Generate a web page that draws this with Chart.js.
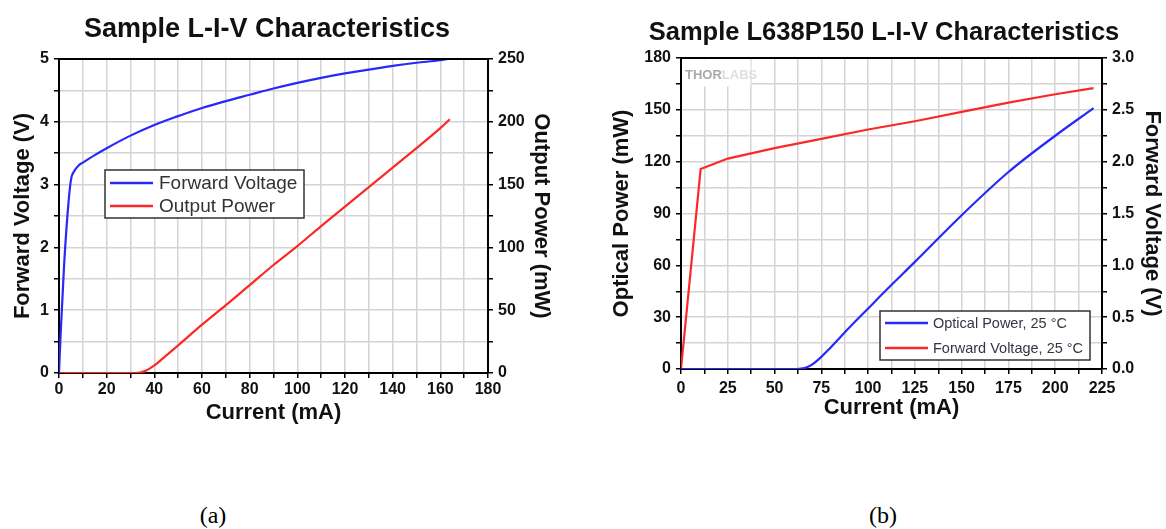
<!DOCTYPE html>
<html>
<head>
<meta charset="utf-8">
<title>L-I-V Characteristics</title>
<script src="https://cdn.jsdelivr.net/npm/chart.js@4.4.1/dist/chart.umd.min.js"></script>
<style>
    html, body { margin: 0; padding: 0; background: #fff; }
    #wrap { position: relative; width: 1166px; height: 529px; overflow: hidden; }
    .panel { position: absolute; top: 0; width: 583px; height: 440px; }
    #panelA { left: 0; }
    #panelB { left: 583px; }
    .cap {
        position: absolute; top: 503px; width: 60px; margin-left: -30px;
        text-align: center; font: 24px/24px "Liberation Serif", "DejaVu Serif", serif; color: #000;
    }
</style>
</head>
<body>
<div id="wrap">
    <div class="panel" id="panelA"><canvas id="chartA"></canvas></div>
    <div class="panel" id="panelB"><canvas id="chartB"></canvas></div>
    <div class="cap" style="left:213px">(a)</div>
    <div class="cap" style="left:883px">(b)</div>
</div>
<script>
// ============================================================
//  Data
// ============================================================

// (a) Sample L-I-V Characteristics
const aVoltCurrent  = [0, 0.7, 2.1, 3.5, 5, 6.5, 8.4, 10, 15, 20, 30, 40, 50, 60, 70, 80, 90, 100, 110, 120, 130, 140, 150, 160, 163];
const aVoltage      = [0, 0.63, 1.69, 2.49, 3.07, 3.22, 3.31, 3.35, 3.47, 3.58, 3.78, 3.95, 4.09, 4.22, 4.33, 4.43, 4.53, 4.62, 4.70, 4.77, 4.83, 4.89, 4.94, 4.98, 5.0];
const aPowerCurrent = [0, 32, 34, 36, 38, 40, 45, 50, 60, 70, 80, 90, 100, 110, 120, 130, 140, 150, 160, 164];
const aPower        = [0, 0, 0.3, 1.5, 3.5, 6, 14, 22, 38.5, 54, 70, 86, 101, 117, 132.5, 148, 163.5, 179, 195, 202];

const aCurrentLabels = [0, 20, 40, 60, 80, 100, 120, 140, 160, 180];
const aVoltLabels    = [0, 1, 2, 3, 4, 5];
const aPowerLabels   = [0, 50, 100, 150, 200, 250];

// (b) Sample L638P150 L-I-V Characteristics
const bPowerCurrent = [0, 62, 66, 70, 75, 80, 90, 100, 110, 125, 150, 175, 200, 220.5];
const bPower        = [0, 0, 0.5, 2.5, 7, 12.5, 24, 35, 46, 62, 89, 114, 135, 151];
const bVoltCurrent  = [0, 10.5, 25, 50, 75, 100, 125, 150, 175, 200, 220.5];
const bVoltage      = [0, 1.93, 2.03, 2.13, 2.22, 2.31, 2.39, 2.48, 2.57, 2.65, 2.71];

const bCurrentLabels = [0, 25, 50, 75, 100, 125, 150, 175, 200, 225];
const bPowerLabels   = [0, 30, 60, 90, 120, 150, 180];
const bVoltLabels    = [0, 0.5, 1.0, 1.5, 2.0, 2.5, 3.0];

// ============================================================
//  Styling helpers
// ============================================================

const BLUE = 'rgb(40,40,250)';
const RED  = 'rgb(252,40,40)';
const GRID = '#d4d4d4';
const SANS = '"Liberation Sans", Arial, sans-serif';

Chart.defaults.font.family = SANS;
Chart.defaults.color = '#111';

function pts(xs, ys) {
    return xs.map((x, i) => ({ x: x, y: ys[i] }));
}

function onlyLabels(list, fmt) {
    return v => list.some(t => Math.abs(t - v) < 1e-6) ? fmt(v) : '';
}

function axis(o) {
    return {
        type: 'linear',
        position: o.position,
        min: o.min,
        max: o.max,
        afterFit: scale => {
            if (scale.isHorizontal()) scale.height = o.size;
            else scale.width = o.size;
        },
        border: { color: '#000', width: 2 },
        grid: {
            drawOnChartArea: o.grid,
            color: GRID,
            lineWidth: 1.5,
            tickLength: 5,
            tickColor: '#000',
            tickWidth: 1.5
        },
        ticks: {
            stepSize: o.step,
            autoSkip: false,
            maxRotation: 0,
            padding: o.tickPad,
            color: '#111',
            font: { size: 16, weight: 'bold' },
            callback: onlyLabels(o.labels, o.fmt || (v => v))
        },
        title: {
            display: true,
            text: o.title,
            color: '#111',
            font: { size: 22, weight: 'bold' },
            padding: o.titlePad
        }
    };
}

// title, frame top, in-plot legend and watermark
const panelDecor = {
    id: 'panelDecor',
    beforeDatasetsDraw(chart, args, o) {
        const { ctx, chartArea: ca } = chart;
        if (!o.watermark) return;
        ctx.save();
        ctx.fillStyle = '#fff';
        ctx.fillRect(ca.left + 1.5, ca.top + 1.5, 68, 27);
        ctx.font = 'bold 13px ' + SANS;
        ctx.textBaseline = 'alphabetic';
        ctx.fillStyle = '#a9a9a9';
        ctx.fillText('THOR', ca.left + 4, ca.top + 21);
        const w = ctx.measureText('THOR').width;
        ctx.fillStyle = '#dedede';
        ctx.fillText('LABS', ca.left + 4 + w, ca.top + 21);
        ctx.restore();
    },
    afterDatasetsDraw(chart) {
        const { ctx, chartArea: ca } = chart;
        ctx.save();
        ctx.strokeStyle = '#000';
        ctx.lineWidth = 2;
        ctx.beginPath();
        ctx.moveTo(ca.left, ca.top);
        ctx.lineTo(ca.right, ca.top);
        ctx.stroke();
        ctx.restore();
    },
    afterDraw(chart, args, o) {
        const { ctx } = chart;
        ctx.save();

        ctx.font = 'bold ' + o.titleSize + 'px ' + SANS;
        ctx.fillStyle = '#111';
        ctx.textAlign = 'center';
        ctx.textBaseline = 'alphabetic';
        ctx.fillText(o.title, o.titleX, o.titleY);

        const lg = o.legend;
        ctx.fillStyle = '#fff';
        ctx.fillRect(lg.x, lg.y, lg.w, lg.h);
        ctx.strokeStyle = '#333';
        ctx.lineWidth = 1.5;
        ctx.strokeRect(lg.x, lg.y, lg.w, lg.h);
        ctx.font = lg.size + 'px ' + SANS;
        ctx.textAlign = 'left';
        ctx.textBaseline = 'middle';
        chart.data.datasets.forEach((ds, i) => {
            const y = lg.y + lg.first + i * lg.rowH;
            ctx.strokeStyle = ds.borderColor;
            ctx.lineWidth = 2.5;
            ctx.beginPath();
            ctx.moveTo(lg.x + 5, y);
            ctx.lineTo(lg.x + 48, y);
            ctx.stroke();
            ctx.fillStyle = lg.color;
            ctx.fillText(ds.label, lg.x + lg.textX, y + 1);
        });
        ctx.restore();
    }
};

function line(label, data, color, axisId, smooth) {
    return {
        label: label,
        data: data,
        yAxisID: axisId,
        borderColor: color,
        borderWidth: 2.2,
        pointRadius: 0,
        fill: false,
        cubicInterpolationMode: smooth ? 'monotone' : 'default',
        tension: 0
    };
}

function baseOptions(padTop) {
    return {
        responsive: true,
        maintainAspectRatio: false,
        animation: false,
        layout: { padding: { top: padTop, left: 0, right: 0, bottom: 0 } },
        plugins: { legend: { display: false }, tooltip: { enabled: false } }
    };
}

// ============================================================
//  Panel (a)
// ============================================================

const optsA = baseOptions(59);
optsA.scales = {
    x: axis({ position: 'bottom', min: 0, max: 180, step: 10, labels: aCurrentLabels,
              size: 67, tickPad: 2, grid: true, title: 'Current (mA)', titlePad: { top: 0, bottom: 13.8 } }),
    y: axis({ position: 'left', min: 0, max: 5, step: 0.5, labels: aVoltLabels,
              size: 59, tickPad: 5, grid: true, title: 'Forward Voltage (V)', titlePad: { top: 10, bottom: 0 } }),
    y1: axis({ position: 'right', min: 0, max: 250, step: 25, labels: aPowerLabels,
               size: 95, tickPad: 5, grid: false, title: 'Output Power (mW)', titlePad: { top: 28.8, bottom: 0 } })
};
optsA.plugins.panelDecor = {
    title: 'Sample L-I-V Characteristics', titleSize: 27, titleX: 267, titleY: 37,
    legend: { x: 105, y: 170, w: 199, h: 48, first: 13, rowH: 23, textX: 54, size: 19, color: '#333' },
    watermark: false
};

new Chart(document.getElementById('chartA'), {
    type: 'line',
    data: {
        datasets: [
            line('Forward Voltage', pts(aVoltCurrent, aVoltage), BLUE, 'y', true),
            line('Output Power', pts(aPowerCurrent, aPower), RED, 'y1', true)
        ]
    },
    options: optsA,
    plugins: [panelDecor]
});

// ============================================================
//  Panel (b)
// ============================================================

const optsB = baseOptions(58);
optsB.scales = {
    x: axis({ position: 'bottom', min: 0, max: 225, step: 12.5, labels: bCurrentLabels,
              size: 71, tickPad: 5, grid: true, title: 'Current (mA)', titlePad: { top: 0, bottom: 18.8 } }),
    y: axis({ position: 'left', min: 0, max: 180, step: 15, labels: bPowerLabels,
              size: 98, tickPad: 5, grid: true, title: 'Optical Power (mW)', titlePad: { top: 25.8, bottom: 0 } }),
    y1: axis({ position: 'right', min: 0, max: 3, step: 0.25, labels: bVoltLabels, fmt: v => v.toFixed(1),
               size: 64, tickPad: 5, grid: false, title: 'Forward Voltage (V)', titlePad: { top: 0.8, bottom: 0 } })
};
optsB.plugins.panelDecor = {
    title: 'Sample L638P150 L-I-V Characteristics', titleSize: 25.5, titleX: 301, titleY: 40,
    legend: { x: 297, y: 311, w: 210, h: 49, first: 12, rowH: 25, textX: 53, size: 14.5, color: '#353545' },
    watermark: true
};

new Chart(document.getElementById('chartB'), {
    type: 'line',
    data: {
        datasets: [
            line('Optical Power, 25 °C', pts(bPowerCurrent, bPower), BLUE, 'y', true),
            line('Forward Voltage, 25 °C', pts(bVoltCurrent, bVoltage), RED, 'y1', false)
        ]
    },
    options: optsB,
    plugins: [panelDecor]
});
</script>
</body>
</html>
